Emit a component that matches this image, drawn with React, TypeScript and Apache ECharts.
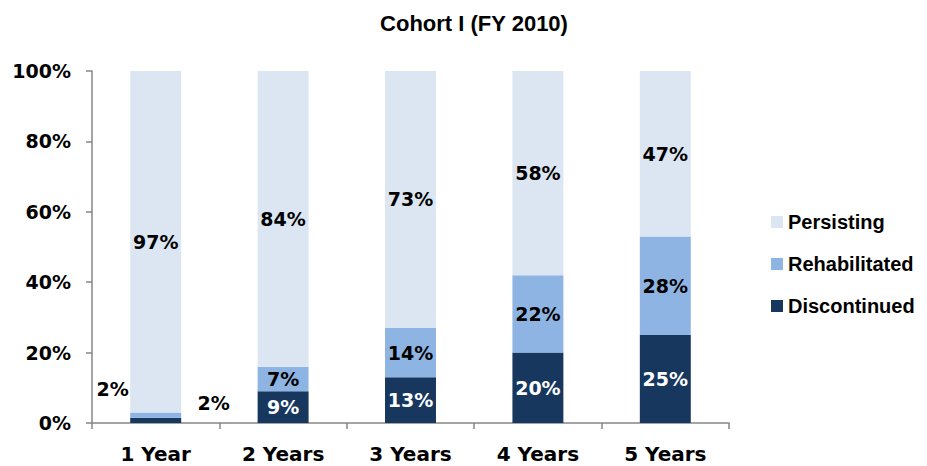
import React, { useEffect, useRef } from "react";
import * as echarts from "echarts";

const categories = ["1 Year", "2 Years", "3 Years", "4 Years", "5 Years"];
const discontinued = [1.5, 9, 13, 20, 25];
const rehabilitated = [1.5, 7, 14, 22, 28];
const persisting = [97, 84, 73, 58, 47];
const yTicks = [0, 20, 40, 60, 80, 100];

const C_PERS = "#DCE6F2";
const C_REHAB = "#8EB4E3";
const C_DISC = "#17375E";
const FONT = "'DejaVu Sans', sans-serif";
const FONT_T = "'Liberation Sans', Arial, sans-serif";

export default function App() {
  const ref = useRef<HTMLDivElement>(null);
  useEffect(() => {
    if (!ref.current) return;
    const chart = echarts.init(ref.current, undefined, { renderer: "svg" });
    const fmt = (p: any) => Math.round(p.value) + "%";
    const labelBase = {
      show: true,
      position: "inside",
      fontFamily: FONT,
      fontWeight: "bold",
      fontSize: 19,
      formatter: fmt,
    };
    chart.setOption({
      animation: false,
      title: {
        text: "Cohort I (FY 2010)",
        left: 469,
        textAlign: "center",
        top: 7,
        textStyle: { fontFamily: FONT_T, fontWeight: "bold", fontSize: 22, color: "#000" },
      },
      legend: {
        data: ["Persisting", "Rehabilitated", "Discontinued"],
        orient: "vertical",
        left: 771,
        top: 212,
        padding: 0,
        itemWidth: 12,
        itemHeight: 12,
        itemGap: 22,
        icon: "rect",
        textStyle: { fontFamily: FONT_T, fontWeight: "bold", fontSize: 20, color: "#000" },
      },
      grid: { left: 92, right: 198, top: 71, bottom: 43 },
      xAxis: {
        type: "category",
        data: categories,
        axisLine: { lineStyle: { color: "#868686", width: 1.5 } },
        axisTick: { show: true, length: 6, lineStyle: { color: "#868686", width: 1.5 } },
        axisLabel: { fontFamily: FONT, fontWeight: "bold", fontSize: 20, color: "#000", margin: 21 },
      },
      yAxis: {
        type: "value",
        min: 0,
        max: 100,
        interval: 20,
        axisLine: { show: true, lineStyle: { color: "#868686", width: 1.5 } },
        axisTick: { show: true, length: 6, lineStyle: { color: "#868686", width: 1.5 } },
        splitLine: { show: false },
        axisLabel: {
          fontFamily: FONT,
          fontWeight: "bold",
          fontSize: 19,
          color: "#000",
          margin: 21,
          formatter: (v: number) => (yTicks.includes(v) ? v + "%" : ""),
        },
      },
      series: [
        {
          name: "Discontinued",
          type: "bar",
          stack: "a",
          barWidth: "40%",
          itemStyle: { color: C_DISC },
          label: { ...labelBase, color: "#fff" },
          data: discontinued.map((v, i) =>
            i === 0
              ? { value: v, label: { color: "#000", offset: [-43, -31] } }
              : v
          ),
        },
        {
          name: "Rehabilitated",
          type: "bar",
          stack: "a",
          itemStyle: { color: C_REHAB },
          label: { ...labelBase, color: "#000" },
          data: rehabilitated.map((v, i) =>
            i === 0 ? { value: v, label: { offset: [58, -12] } } : v
          ),
        },
        {
          name: "Persisting",
          type: "bar",
          stack: "a",
          itemStyle: { color: C_PERS },
          label: { ...labelBase, color: "#000" },
          data: persisting,
        },
      ],
    });
    return () => chart.dispose();
  }, []);
  return (
    <div
      ref={ref}
      style={{ position: "fixed", left: 0, top: 0, width: 927, height: 466, background: "#fff" }}
    />
  );
}
